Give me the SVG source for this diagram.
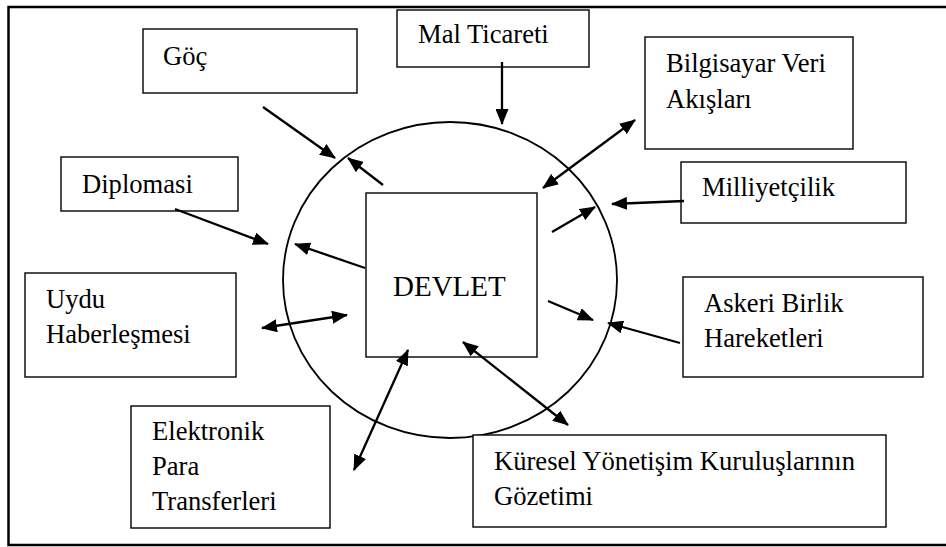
<svg xmlns="http://www.w3.org/2000/svg" width="946" height="547" viewBox="0 0 946 547">
<style>
.box{fill:#fff;stroke:#000;stroke-width:1.4}
.t{font-family:"Liberation Serif","Times New Roman",serif;font-size:26.6px;fill:#000}
.big{font-size:29px}
.c{fill:none;stroke:#000;stroke-width:2.3}
</style>
<defs>
<marker id="ah" markerUnits="userSpaceOnUse" markerWidth="16" markerHeight="13" refX="15" refY="6.5" orient="auto-start-reverse">
<path d="M0,0 L16,6.5 L0,13 z" fill="#000"/>
</marker>
</defs>
<rect x="0" y="0" width="946" height="547" fill="#fff"/>
<g id="frame" fill="none" stroke="#000" stroke-width="2.5">
<path d="M946,7 H8.5 V545 H946"/>
</g>
<g id="circle"><ellipse cx="450" cy="280" rx="167" ry="158" fill="none" stroke="#000" stroke-width="1.8"/></g>
<g id="devlet"><rect class="box" x="366" y="193" width="171" height="164"/><text class="t big" x="393" y="296">DEVLET</text></g>
<g id="goc"><rect class="box" x="143" y="29" width="214" height="64"/><text class="t" x="163" y="65">Göç</text></g>
<g id="mal"><rect class="box" x="397" y="10" width="192" height="57"/><text class="t" x="418" y="43">Mal Ticareti</text></g>
<g id="bilgisayar"><rect class="box" x="645" y="37" width="208" height="112"/><text class="t" x="666" y="72">Bilgisayar Veri</text><text class="t" x="666" y="108">Akışları</text></g>
<g id="milliyetcilik"><rect class="box" x="681" y="162" width="225" height="61"/><text class="t" x="702" y="196">Milliyetçilik</text></g>
<g id="diplomasi"><rect class="box" x="61" y="157" width="177" height="54"/><text class="t" x="82" y="193">Diplomasi</text></g>
<g id="uydu"><rect class="box" x="25" y="273" width="211" height="104"/><text class="t" x="46" y="308">Uydu</text><text class="t" x="46" y="343">Haberleşmesi</text></g>
<g id="elektronik"><rect class="box" x="131" y="406" width="199" height="122"/><text class="t" x="152" y="440">Elektronik</text><text class="t" x="152" y="475">Para</text><text class="t" x="152" y="510">Transferleri</text></g>
<g id="askeri"><rect class="box" x="683" y="277" width="240" height="100"/><text class="t" x="704" y="312">Askeri Birlik</text><text class="t" x="704" y="347">Hareketleri</text></g>
<g id="kuresel"><rect class="box" x="473" y="435" width="413" height="92"/><text class="t" x="494" y="470">Küresel Yönetişim Kuruluşlarının</text><text class="t" x="494" y="505">Gözetimi</text></g>
<g id="connectors" class="c">
<line x1="502" y1="62" x2="502" y2="124" marker-end="url(#ah)"/>
<line x1="263" y1="107" x2="335" y2="158" marker-end="url(#ah)"/>
<line x1="383" y1="185" x2="348" y2="158" marker-end="url(#ah)"/>
<line x1="175" y1="209" x2="268" y2="244" marker-end="url(#ah)"/>
<line x1="365" y1="268" x2="295" y2="244" marker-end="url(#ah)"/>
<line x1="543" y1="188" x2="635" y2="120" marker-start="url(#ah)" marker-end="url(#ah)"/>
<line x1="552" y1="232" x2="595" y2="207" marker-end="url(#ah)"/>
<line x1="684" y1="201" x2="612" y2="204" marker-end="url(#ah)"/>
<line x1="262" y1="328" x2="347" y2="315" marker-start="url(#ah)" marker-end="url(#ah)"/>
<line x1="354" y1="470" x2="408" y2="350" marker-start="url(#ah)" marker-end="url(#ah)"/>
<line x1="548" y1="301" x2="593" y2="320" marker-end="url(#ah)"/>
<line x1="680" y1="343" x2="608" y2="323" marker-end="url(#ah)"/>
<line x1="463" y1="342" x2="568" y2="425" marker-start="url(#ah)" marker-end="url(#ah)"/>
</g>
</svg>
